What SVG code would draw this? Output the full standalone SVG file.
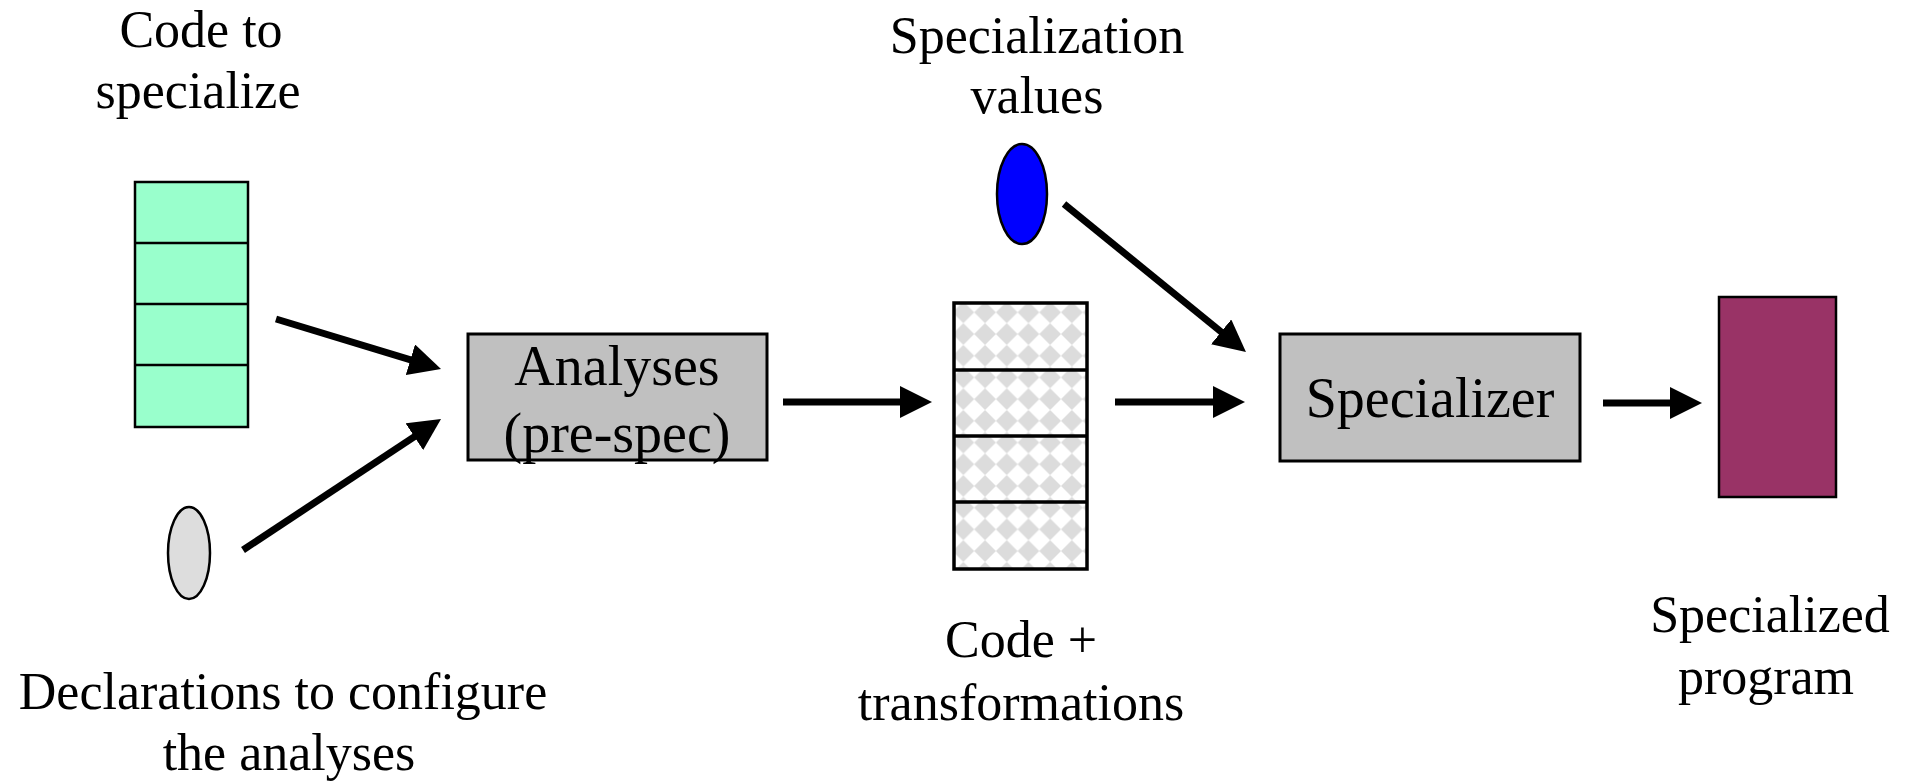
<svg xmlns="http://www.w3.org/2000/svg" width="1910" height="781" viewBox="0 0 1910 781">
  <style>
    text { font-family: "Liberation Serif", "Times New Roman", serif; fill: #000; text-anchor: middle; }
    .label { font-size: 52px; }
    .boxlabel { font-size: 56px; }
    .box { fill: #c0c0c0; stroke: #000; stroke-width: 3; }
    .cell { stroke: #000; stroke-width: 2.5; }
    .conn { stroke: #000; stroke-width: 7; fill: none; marker-end: url(#head); }
  </style>
  <defs>
    <marker id="head" markerUnits="userSpaceOnUse" markerWidth="32" markerHeight="32" refX="2" refY="16" orient="auto">
      <path d="M0,0 L32,16 L0,32 z" fill="#000"/>
    </marker>
    <pattern id="diamonds" patternUnits="userSpaceOnUse" x="952.5" y="301.5" width="21.7" height="21.7">
      <rect width="21.7" height="21.7" fill="#fff"/>
      <path d="M10.85,0 L21.7,10.85 L10.85,21.7 L0,10.85 z" fill="#dcdcdc"/>
    </pattern>
  </defs>

  <rect width="1910" height="781" fill="#fff"/>

  <!-- source code to specialize -->
  <g id="code-to-specialize">
    <rect x="135" y="182" width="113" height="245" fill="#99ffcc" class="cell"/>
    <line x1="135" y1="243" x2="248" y2="243" class="cell"/>
    <line x1="135" y1="304" x2="248" y2="304" class="cell"/>
    <line x1="135" y1="365" x2="248" y2="365" class="cell"/>
    <text class="label" x="201" y="47">Code to</text>
    <text class="label" x="198" y="108">specialize</text>
  </g>

  <!-- analysis configuration declarations -->
  <g id="declarations">
    <ellipse cx="189" cy="553" rx="21" ry="46" fill="#dddddd" stroke="#000" stroke-width="2.5"/>
    <text class="label" x="283" y="709">Declarations to configure</text>
    <text class="label" x="289" y="770">the analyses</text>
  </g>

  <!-- pre-specialization analyses -->
  <g id="analyses">
    <rect x="468" y="334" width="299" height="126" class="box"/>
    <text class="boxlabel" x="617" y="385">Analyses</text>
    <text class="boxlabel" x="617" y="452">(pre-spec)</text>
  </g>

  <!-- annotated code -->
  <g id="code-transformations">
    <rect x="954" y="303" width="133" height="266" fill="url(#diamonds)" stroke="#000" stroke-width="3.5"/>
    <line x1="954" y1="370" x2="1087" y2="370" stroke="#000" stroke-width="3.5"/>
    <line x1="954" y1="436" x2="1087" y2="436" stroke="#000" stroke-width="3.5"/>
    <line x1="954" y1="502" x2="1087" y2="502" stroke="#000" stroke-width="3.5"/>
    <text class="label" x="1021" y="657">Code +</text>
    <text class="label" x="1021" y="720">transformations</text>
  </g>

  <!-- runtime values -->
  <g id="specialization-values">
    <ellipse cx="1022" cy="194" rx="25" ry="50" fill="#0000ff" stroke="#000" stroke-width="2.5"/>
    <text class="label" x="1037" y="53">Specialization</text>
    <text class="label" x="1037" y="113">values</text>
  </g>

  <!-- specializer -->
  <g id="specializer">
    <rect x="1280" y="334" width="300" height="127" class="box"/>
    <text class="boxlabel" x="1430" y="417">Specializer</text>
  </g>

  <!-- result -->
  <g id="specialized-program">
    <rect x="1719" y="297" width="117" height="200" fill="#993366" stroke="#000" stroke-width="2.5"/>
    <text class="label" x="1770" y="632">Specialized</text>
    <text class="label" x="1766" y="694">program</text>
  </g>

  <g id="connectors">
    <line x1="276" y1="319" x2="412.3" y2="360.3" class="conn"/>
    <line x1="243" y1="550" x2="416" y2="435.6" class="conn"/>
    <line x1="783" y1="402" x2="902" y2="402" class="conn"/>
    <line x1="1115" y1="402" x2="1215" y2="402" class="conn"/>
    <line x1="1064" y1="204" x2="1222.7" y2="333.1" class="conn"/>
    <line x1="1603" y1="403" x2="1672" y2="403" class="conn"/>
  </g>
</svg>
